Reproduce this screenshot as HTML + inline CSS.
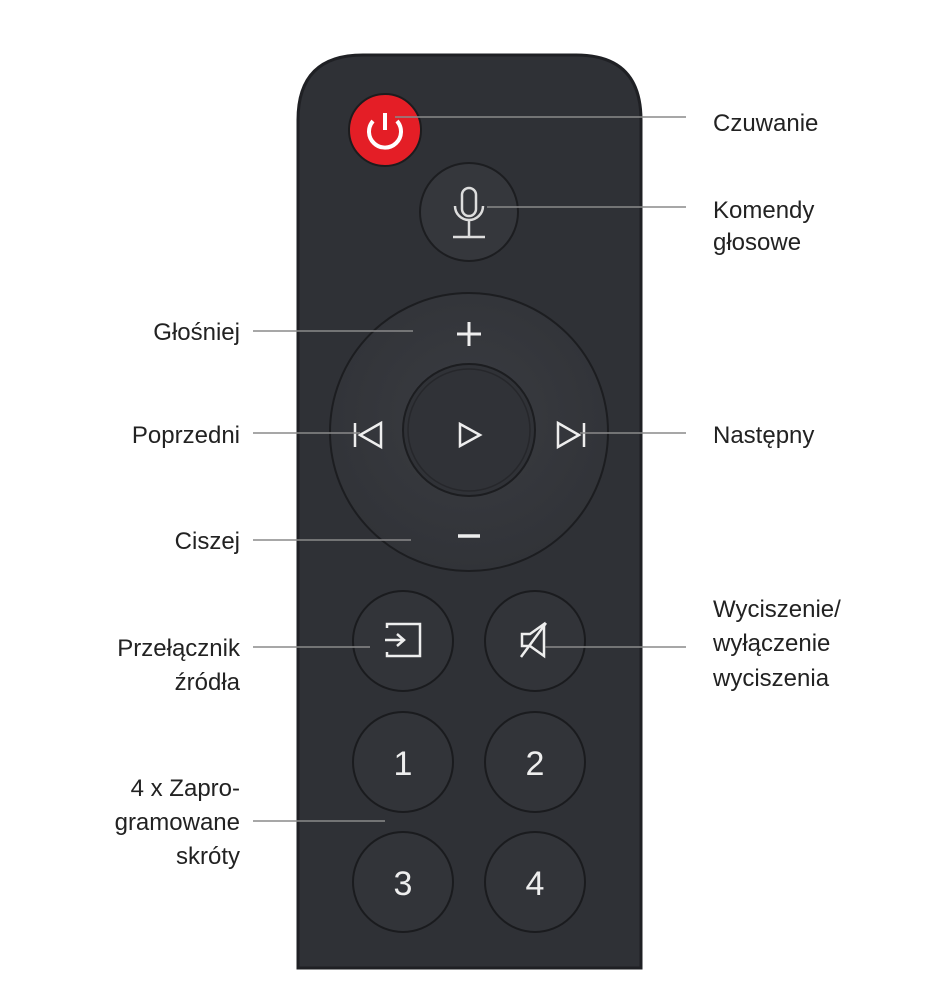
<!DOCTYPE html>
<html><head><meta charset="utf-8"><style>
html,body{margin:0;padding:0;background:#fff;}
svg{display:block;}
text{font-family:"Liberation Sans",sans-serif;font-size:24px;fill:#222;}
</style></head><body>
<svg width="939" height="1000" viewBox="0 0 939 1000">
<defs>
<radialGradient id="dp" cx="50%" cy="45%" r="55%"><stop offset="0" stop-color="#3a3c41"/><stop offset="1" stop-color="#313338"/></radialGradient>
</defs>
<path d="M298 968 V120 Q298 55 363 55 H576 Q641 55 641 120 V968 Z" fill="#2f3136" stroke="#1f2024" stroke-width="3"/>
<!-- power -->
<circle cx="385" cy="130" r="36" fill="#e41e26" stroke="#1c1c1e" stroke-width="2"/>
<path d="M373 121 A16 16 0 1 0 397 121" fill="none" stroke="#fff" stroke-width="4"/>
<line x1="385" y1="113" x2="385" y2="130" stroke="#fff" stroke-width="4"/>
<!-- mic -->
<circle cx="469" cy="212" r="49" fill="#35373c" stroke="#1c1d20" stroke-width="2"/>
<rect x="462" y="188" width="14" height="28" rx="7" fill="none" stroke="#ddd" stroke-width="2.5"/>
<path d="M455 206 A14 14 0 0 0 483 206" fill="none" stroke="#ddd" stroke-width="2.5"/>
<line x1="469" y1="221" x2="469" y2="236" stroke="#ddd" stroke-width="2.5"/>
<line x1="453" y1="237" x2="485" y2="237" stroke="#ddd" stroke-width="2.5"/>
<!-- dpad -->
<circle cx="469" cy="432" r="139" fill="url(#dp)" stroke="#1c1d20" stroke-width="2"/>
<circle cx="469" cy="430" r="66" fill="#303237" stroke="#1c1d20" stroke-width="2"/>
<circle cx="469" cy="430" r="61" fill="none" stroke="#26272b" stroke-width="1.5"/>
<path d="M469 322 V346 M457 334 H481" stroke="#eee" stroke-width="3"/>
<path d="M458 536 H480" stroke="#eee" stroke-width="3.5"/>
<path d="M460 424 L480 435 L460 446 Z" fill="none" stroke="#eee" stroke-width="2.5"/>
<path d="M355 423 V447 M381 423 L360 435 L381 447 Z" fill="none" stroke="#eee" stroke-width="2.5"/>
<path d="M584 423 V447 M558 423 L579 435 L558 447 Z" fill="none" stroke="#eee" stroke-width="2.5"/>
<!-- source/mute -->
<circle cx="403" cy="641" r="50" fill="#323439" stroke="#1a1b1e" stroke-width="2"/>
<circle cx="535" cy="641" r="50" fill="#323439" stroke="#1a1b1e" stroke-width="2"/>
<path d="M387 628 V624 H420 V656 H387 V652" fill="none" stroke="#eee" stroke-width="2.5"/>
<path d="M385 640 H403 M397 634 L404 640 L397 646" fill="none" stroke="#eee" stroke-width="2.5"/>
<path d="M522 634 H530 L544 624 V656 L530 646 H522 Z" fill="none" stroke="#eee" stroke-width="2.5"/>
<line x1="521" y1="657" x2="546" y2="623" stroke="#eee" stroke-width="2.5"/>
<!-- numbers -->
<g fill="#323439" stroke="#1a1b1e" stroke-width="2">
<circle cx="403" cy="762" r="50"/><circle cx="535" cy="762" r="50"/>
<circle cx="403" cy="882" r="50"/><circle cx="535" cy="882" r="50"/>
</g>
<g style="font-size:34px" text-anchor="middle">
<text x="403" y="775" style="fill:#eee;font-size:34px">1</text>
<text x="535" y="775" style="fill:#eee;font-size:34px">2</text>
<text x="403" y="895" style="fill:#eee;font-size:34px">3</text>
<text x="535" y="895" style="fill:#eee;font-size:34px">4</text>
</g>
<!-- lines -->
<g stroke="#8a8a8a" stroke-width="1.5">
<line x1="395" y1="117" x2="686" y2="117"/>
<line x1="487" y1="207" x2="686" y2="207"/>
<line x1="580" y1="433" x2="686" y2="433"/>
<line x1="545" y1="647" x2="686" y2="647"/>
<line x1="253" y1="331" x2="413" y2="331"/>
<line x1="253" y1="433" x2="360" y2="433"/>
<line x1="253" y1="540" x2="411" y2="540"/>
<line x1="253" y1="647" x2="370" y2="647"/>
<line x1="253" y1="821" x2="385" y2="821"/>
</g>
<!-- labels -->
<text x="713" y="131">Czuwanie</text>
<text x="713" y="218">Komendy</text>
<text x="713" y="250">głosowe</text>
<text x="713" y="443">Następny</text>
<text x="713" y="617">Wyciszenie/</text>
<text x="713" y="651">wyłączenie</text>
<text x="713" y="686">wyciszenia</text>
<g text-anchor="end">
<text x="240" y="340">Głośniej</text>
<text x="240" y="443">Poprzedni</text>
<text x="240" y="549">Ciszej</text>
<text x="240" y="656">Przełącznik</text>
<text x="240" y="690">źródła</text>
<text x="240" y="796">4 x Zapro-</text>
<text x="240" y="830">gramowane</text>
<text x="240" y="864">skróty</text>
</g>
</svg>
</body></html>
